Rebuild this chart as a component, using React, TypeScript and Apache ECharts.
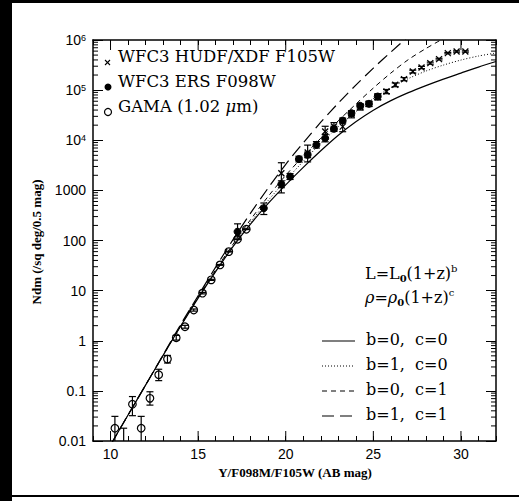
import React, { useEffect, useRef } from 'react';
import * as echarts from 'echarts';

// ---- axis decorations ----
const xMajorTicks = [10, 15, 20, 25, 30];
const yDecadeLabels: Record<number, string> = { [-2]: '0.01', [-1]: '0.1', 0: '1', 1: '10', 2: '100', 3: '1000' };
const yDecades = [0.01, 0.1, 1, 10, 100, 1000, 1e4, 1e5];
const minorMultipliers = [2, 3, 4, 5, 6, 7, 8, 9];

// ---- GAMA (1.02 um), open circles ----
const gamaMag = [10.25, 10.75, 11.25, 11.75, 12.25, 12.75, 13.25, 13.75, 14.25, 14.75, 15.25, 15.75, 16.25, 16.75, 17.25, 17.75];
const gamaN = [0.018, 0.006, 0.054, 0.018, 0.071, 0.21, 0.43, 1.15, 1.9, 4.1, 8.9, 16.4, 32.6, 60, 106, 168];
const gamaLo = [0.004, 0.002, 0.032, 0.004, 0.052, 0.16, 0.36, 1.03, 1.78, 3.9, 8.6, 16.0, 32.0, 59, 104, 165];
const gamaHi = [0.031, 0.018, 0.077, 0.031, 0.096, 0.27, 0.51, 1.28, 2.03, 4.3, 9.2, 16.8, 33.2, 61, 108, 171];

// ---- WFC3 ERS F098W, filled circles ----
const ersMag = [17.25, 18.75, 19.75, 20.25, 20.75, 21.25, 21.75, 22.25, 22.75, 23.25, 23.75, 24.25, 24.75, 25.25];
const ersN = [150, 441, 1330, 1885, 4200, 5120, 8090, 11000, 16900, 24700, 34700, 48600, 53300, 74500];
const ersLo = [118, 330, 1130, 1650, 3700, 4500, 7000, 9300, 15000, 22000, 31000, 44000, 48000, 65000];
const ersHi = [215, 560, 1550, 2150, 4800, 5800, 9400, 13000, 19000, 27700, 38800, 53700, 59000, 85000];

// ---- WFC3 HUDF/XDF F105W, crosses ----
const hudfMag = [19.75, 21.25, 22.25, 22.75, 23.25, 23.75, 24.25, 24.75, 25.25, 25.75, 26.25, 26.75, 27.25, 27.75, 28.25, 28.75, 29.25, 29.75, 30.25];
const hudfN = [2200, 5700, 14900, 18800, 18700, 33000, 46000, 53300, 72000, 93800, 127600, 165700, 235000, 283000, 346000, 416000, 548000, 590000, 590000];
const hudfLo = [890, 3700, 11000, 15500, 14800, 28000, 40000, 47000, 64000, 85000, 117000, 154000, 220000, 268000, 330000, 400000, 530000, 572000, 572000];
const hudfHi = [3560, 8000, 19000, 22500, 23000, 38000, 52000, 60000, 81000, 103000, 139000, 178000, 250000, 298000, 362000, 432000, 566000, 608000, 608000];

// ---- model curves ----
const modelMag = [10, 11, 12, 13, 14, 15, 16, 17, 18, 19, 20, 21, 22, 23, 24, 25, 26, 27, 28, 29, 30, 31, 32];
const modelB0C0 = [0.0083, 0.033, 0.13, 0.51, 1.95, 7.1, 24, 76, 214, 550, 1290, 2880, 6170, 12600, 23400, 39800, 61700, 89100, 123000, 166000, 219000, 288000, 372000];
const modelB1C0 = [0.0083, 0.033, 0.13, 0.51, 1.95, 7.2, 25, 79, 234, 631, 1585, 3800, 8700, 18600, 37200, 67600, 112000, 170000, 240000, 316000, 398000, 479000, 550000];
const modelB0C1 = [0.0083, 0.033, 0.13, 0.51, 1.97, 7.4, 26, 85, 263, 760, 2000, 4800, 11000, 24500, 52500, 110000, 219000, 407000, 676000, 1070000];
const modelB1C1 = [0.0083, 0.033, 0.13, 0.52, 2.1, 7.9, 29.5, 105, 355, 1120, 3310, 8900, 22900, 55000, 126000, 275000, 575000, 1175000];

const SERIF = '"DejaVu Serif", "Liberation Serif", serif';
const SANS = '"Liberation Sans", Arial, sans-serif';
const TITLE_FONT = 'bold 13px "Liberation Serif", serif';

function pts(mag: number[], n: number[], lo: number[], hi: number[]) {
  return mag.map((m, i) => [m, n[i], lo[i], hi[i]]);
}
function curve(vals: number[]) {
  return vals.map((v, i) => [modelMag[i], v]);
}

function makeRender(kind: 'open' | 'filled' | 'cross') {
  return (params: any, api: any) => {
    const x = api.value(0);
    const p = api.coord([x, api.value(1)]);
    const pl = api.coord([x, api.value(2)]);
    const ph = api.coord([x, api.value(3)]);
    const st = { stroke: '#000', lineWidth: 1.2 };
    const cw = 3.5;
    const children: any[] = [
      { type: 'line', shape: { x1: p[0], y1: pl[1], x2: p[0], y2: ph[1] }, style: st },
      { type: 'line', shape: { x1: p[0] - cw, y1: pl[1], x2: p[0] + cw, y2: pl[1] }, style: st },
      { type: 'line', shape: { x1: p[0] - cw, y1: ph[1], x2: p[0] + cw, y2: ph[1] }, style: st },
    ];
    if (kind === 'open') {
      children.push({ type: 'circle', shape: { cx: p[0], cy: p[1], r: 3.8 }, style: { fill: 'none', stroke: '#000', lineWidth: 1.2 } });
    } else if (kind === 'filled') {
      children.push({ type: 'circle', shape: { cx: p[0], cy: p[1], r: 3.5 }, style: { fill: '#000', stroke: '#000', lineWidth: 1 } });
    } else {
      const s = 3;
      children.push({ type: 'line', shape: { x1: p[0] - s, y1: p[1] - s, x2: p[0] + s, y2: p[1] + s }, style: { stroke: '#000', lineWidth: 1.3 } });
      children.push({ type: 'line', shape: { x1: p[0] - s, y1: p[1] + s, x2: p[0] + s, y2: p[1] - s }, style: { stroke: '#000', lineWidth: 1.3 } });
    }
    return { type: 'group', children };
  };
}

function tickData() {
  const d: number[][] = [];
  yDecades.forEach((dec) => minorMultipliers.forEach((k) => d.push([9, dec * k, 0])));
  xMajorTicks.forEach((m) => d.push([m, 0.01, 1]));
  return d;
}

function renderTick(params: any, api: any) {
  const cs = params.coordSys;
  const p = api.coord([api.value(0), api.value(1)]);
  const st = { stroke: '#000', lineWidth: 1 };
  if (api.value(2) === 0) {
    return {
      type: 'group',
      children: [
        { type: 'line', shape: { x1: cs.x, y1: p[1], x2: cs.x + 5, y2: p[1] }, style: st },
        { type: 'line', shape: { x1: cs.x + cs.width - 5, y1: p[1], x2: cs.x + cs.width, y2: p[1] }, style: st },
      ],
    };
  }
  return {
    type: 'group',
    children: [
      { type: 'line', shape: { x1: p[0], y1: cs.y + cs.height, x2: p[0], y2: cs.y + cs.height - 10 }, style: st },
      { type: 'line', shape: { x1: p[0], y1: cs.y, x2: p[0], y2: cs.y + 10 }, style: st },
    ],
  };
}

function yLabel(v: number) {
  const e = Math.round(Math.log10(v));
  if (e in yDecadeLabels) return yDecadeLabels[e];
  return '{b|10}{s|' + e + '}';
}

export default function App() {
  const ref = useRef<HTMLDivElement>(null);
  useEffect(() => {
    if (!ref.current) return;
    const chart = echarts.init(ref.current, undefined, { renderer: 'svg' });
    const axisLine = { show: true, lineStyle: { color: '#000', width: 1.5 } };
    const legendLines = [
      { y: 339, type: 'solid' as any, text: 'b=0,  c=0', width: 1.2 },
      { y: 364, type: [1, 2] as any, text: 'b=1,  c=0', width: 1 },
      { y: 389, type: [5, 4] as any, text: 'b=0,  c=1', width: 1 },
      { y: 414, type: [12, 6] as any, text: 'b=1,  c=1', width: 1.2 },
    ];
    const graphic: any[] = [
      { type: 'rect', shape: { x: 0, y: 0, width: 12, height: 501 }, style: { fill: '#000' } },
      { type: 'rect', shape: { x: 0, y: 0, width: 519, height: 3 }, style: { fill: '#000' } },
      { type: 'rect', shape: { x: 0, y: 495, width: 519, height: 2 }, style: { fill: '#000' } },
      // left legend
      { type: 'line', shape: { x1: 105, y1: 60, x2: 110, y2: 65 }, style: { stroke: '#000', lineWidth: 1.1 } },
      { type: 'line', shape: { x1: 105, y1: 65, x2: 110, y2: 60 }, style: { stroke: '#000', lineWidth: 1.1 } },
      { type: 'circle', shape: { cx: 108, cy: 87, r: 3.5 }, style: { fill: '#000' } },
      { type: 'circle', shape: { cx: 108, cy: 112, r: 3.5 }, style: { fill: 'none', stroke: '#000', lineWidth: 1.2 } },
      { type: 'text', x: 118, y: 56, style: { text: 'WFC3 HUDF/XDF F105W', font: '16.5px ' + SERIF, fill: '#000', verticalAlign: 'middle' } },
      { type: 'text', x: 118, y: 81, style: { text: 'WFC3 ERS F098W', font: '16.5px ' + SERIF, fill: '#000', verticalAlign: 'middle' } },
      {
        type: 'text', x: 118, y: 106,
        style: {
          text: 'GAMA (1.02 {i|μ}m)', font: '16.5px ' + SERIF, fill: '#000', verticalAlign: 'middle',
          rich: { i: { fontFamily: SERIF, fontSize: 16.5, fontStyle: 'italic', fill: '#000' } },
        },
      },
      // right legend formulas
      {
        type: 'text', x: 365, y: 273,
        style: {
          text: 'L=L{sub|0}(1+z){sup|b}', font: '16px ' + SERIF, fill: '#000', verticalAlign: 'middle',
          rich: {
            sub: { fontFamily: SERIF, fontSize: 10, fontWeight: 'bold', verticalAlign: 'bottom', lineHeight: 20, fill: '#000' },
            sup: { fontFamily: SERIF, fontSize: 10, verticalAlign: 'top', lineHeight: 20, fill: '#000' },
          },
        },
      },
      {
        type: 'text', x: 365, y: 297,
        style: {
          text: '{i|ρ}={i|ρ}{sub|0}(1+z){sup|c}', font: '16px ' + SERIF, fill: '#000', verticalAlign: 'middle',
          rich: {
            i: { fontFamily: SERIF, fontSize: 16, fontStyle: 'italic', fill: '#000' },
            sub: { fontFamily: SERIF, fontSize: 10, fontWeight: 'bold', verticalAlign: 'bottom', lineHeight: 20, fill: '#000' },
            sup: { fontFamily: SERIF, fontSize: 10, verticalAlign: 'top', lineHeight: 20, fill: '#000' },
          },
        },
      },
      // axis titles
      {
        type: 'text', x: 295, y: 472,
        style: { text: 'Y/F098M/F105W (AB mag)', font: TITLE_FONT, fill: '#000', align: 'center', verticalAlign: 'middle' },
      },
      {
        type: 'text', x: 36, y: 242, rotation: Math.PI / 2,
        style: { text: 'Ndm (/sq deg/0.5 mag)', font: TITLE_FONT, fill: '#000', align: 'center', verticalAlign: 'middle' },
      },
    ];
    legendLines.forEach((l) => {
      graphic.push({ type: 'line', shape: { x1: 322, y1: l.y + 2, x2: 355, y2: l.y + 2 }, style: { stroke: '#000', lineWidth: l.width, lineDash: l.type === 'solid' ? null : l.type } });
      graphic.push({ type: 'text', x: 366, y: l.y, style: { text: l.text, font: '16px ' + SERIF, fill: '#000', verticalAlign: 'middle' } });
    });

    const lineSeries = (name: string, vals: number[], type: any, width: number) => ({
      type: 'line', name, data: curve(vals), smooth: 0.3, showSymbol: false, symbol: 'none', clip: true,
      lineStyle: { color: '#000', width, type }, silent: true, z: 2,
    });

    chart.setOption({
      animation: false,
      backgroundColor: '#fff',
      grid: { left: 93, top: 40, width: 403, height: 401, containLabel: false },
      xAxis: [
        {
          type: 'value', min: 9, max: 32, interval: 1, position: 'bottom',
          axisLine, splitLine: { show: false },
          axisTick: { inside: true, length: 5, lineStyle: { color: '#000', width: 1 } },
          axisLabel: {
            margin: 6, color: '#000', fontFamily: SANS, fontSize: 14,
            formatter: (v: number) => (xMajorTicks.includes(v) ? String(v) : ''),
          },
        },
        {
          type: 'value', min: 9, max: 32, interval: 1, position: 'top',
          axisLine, splitLine: { show: false },
          axisTick: { inside: true, length: 5, lineStyle: { color: '#000', width: 1 } },
          axisLabel: { show: false },
        },
      ],
      yAxis: [
        {
          type: 'log', logBase: 10, min: 0.01, max: 1e6, position: 'left',
          axisLine, splitLine: { show: false },
          axisTick: { inside: true, length: 10, lineStyle: { color: '#000', width: 1 } },
          axisLabel: {
            margin: 7, color: '#000', fontFamily: SANS, fontSize: 14,
            formatter: yLabel,
            rich: {
              b: { fontFamily: SANS, fontSize: 14, color: '#000' },
              s: { fontFamily: SANS, fontSize: 9, color: '#000', verticalAlign: 'top' },
            },
          },
        },
        {
          type: 'log', logBase: 10, min: 0.01, max: 1e6, position: 'right',
          axisLine, splitLine: { show: false },
          axisTick: { inside: true, length: 10, lineStyle: { color: '#000', width: 1 } },
          axisLabel: { show: false },
        },
      ],
      series: [
        lineSeries('b=0, c=0', modelB0C0, 'solid', 1.2),
        lineSeries('b=1, c=0', modelB1C0, [1, 2], 1),
        lineSeries('b=0, c=1', modelB0C1, [5, 4], 1),
        lineSeries('b=1, c=1', modelB1C1, [12, 6], 1.2),
        { type: 'custom', name: 'ticks', data: tickData(), renderItem: renderTick, clip: false, silent: true, z: 5 },
        { type: 'custom', name: 'GAMA (1.02 μm)', data: pts(gamaMag, gamaN, gamaLo, gamaHi), renderItem: makeRender('open'), clip: true, z: 4 },
        { type: 'custom', name: 'WFC3 ERS F098W', data: pts(ersMag, ersN, ersLo, ersHi), renderItem: makeRender('filled'), clip: true, z: 4 },
        { type: 'custom', name: 'WFC3 HUDF/XDF F105W', data: pts(hudfMag, hudfN, hudfLo, hudfHi), renderItem: makeRender('cross'), clip: true, z: 4 },
      ],
      graphic,
    });
    return () => chart.dispose();
  }, []);
  return (
    <div style={{ position: 'absolute', left: 0, top: 0 }}>
      <div ref={ref} style={{ width: 519, height: 501 }} />
    </div>
  );
}
